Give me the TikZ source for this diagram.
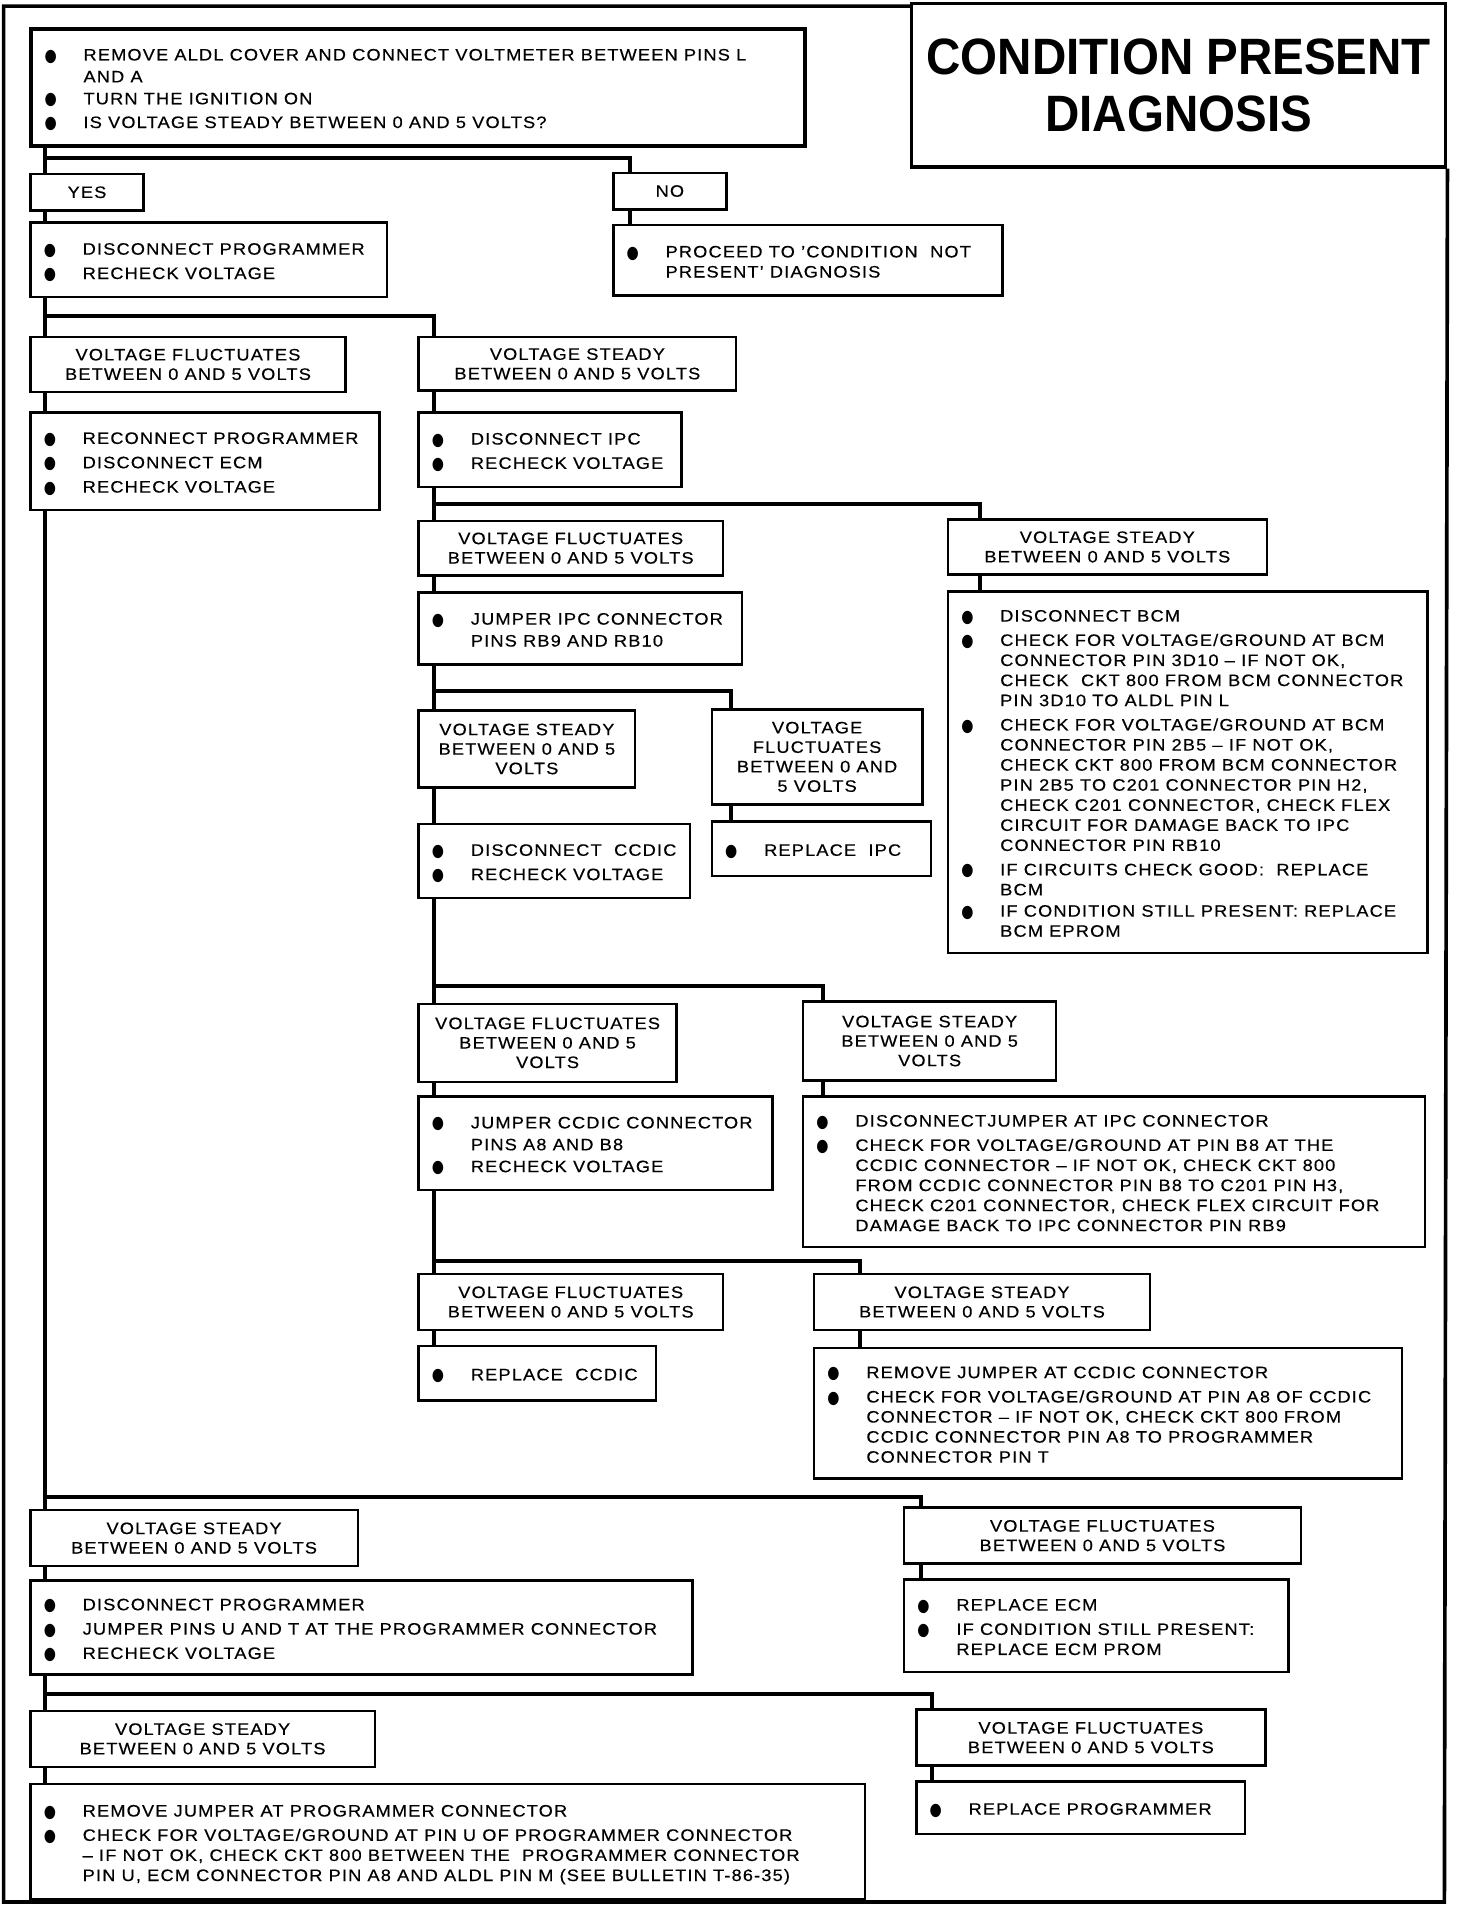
\documentclass[tikz,border=0pt]{standalone}
\usepackage{fontspec}
\usepackage{graphicx}
\setmainfont{Liberation Sans}[FakeStretch=1.1,LetterSpace=7,FakeBold=0.4]
\newfontfamily\titlefont{Liberation Sans}[FakeStretch=0.93]
\newfontfamily\symf{DejaVu Sans}
\newcommand\bul{\makebox[31pt][l]{\makebox[8pt]{\smash{\raisebox{-0.5pt}{\scalebox{1.0}[1.25]{\symf\fontsize{11.5}{11.5}\selectfont ●}}}}}}
\tikzset{
  bx/.style={draw, line width=2pt, inner sep=0pt, font={\fontsize{13.6}{16.5}\selectfont}},
  bxthick/.style={bx, line width=3.3pt},
  hd/.style={draw, line width=2pt, inner sep=0pt, align=center, font={\fontsize{13.6}{16}\selectfont}},
  conn/.style={line width=3.3pt},
  frame/.style={line width=3pt},
}
\newcommand\headbox[6]{\node[hd, anchor=north west, minimum width={#4-#2}, minimum height={#5-#3}] (#1) at (#2,#3) {#6};}
\newcommand\listbox[7][bx]{\node[#1, anchor=north west, minimum width={#5-#3}, minimum height={#6-#4}] (#2) at (#3,#4) {\makebox[\dimexpr#5pt-#3pt\relax][l]{\hspace{12pt}\raisebox{0pt}[\dimexpr\height+5pt\relax][\depth]{\begin{tabular}{@{}l@{}l@{}}#7\end{tabular}}}};}
\begin{document}
\begin{tikzpicture}[x=1pt,y=-1pt]
\useasboundingbox (0,0) rectangle (1197,1568);
% title and frame
\node[draw, line width=2.5pt, inner sep=0pt, anchor=north west, minimum width={1187-748}, minimum height={136-2}, align=center, font={\titlefont\bfseries\fontsize{42}{46.5}\selectfont}] (title) at (748,2) {CONDITION PRESENT\\DIAGNOSIS};
\coordinate (fr1) at (3,5);
\coordinate (fr2) at (3,1563);
\coordinate (fr3) at (1187,1563);
\draw[frame] ([yshift=-3pt]title.north west) -- (fr1) -- (fr2) -- (fr3) -- (title.south east);

% boxes
\listbox[bxthick]{top}{24}{22}{660}{118}{\bul & REMOVE ALDL COVER AND CONNECT VOLTMETER BETWEEN PINS L\\[1.5pt] & AND A\\[1.5pt] \bul & TURN THE IGNITION ON\\[3pt] \bul & IS VOLTAGE STEADY BETWEEN 0 AND 5 VOLTS?}
\headbox{yes}{24}{142}{117}{172}{YES}
\headbox{no}{503}{141}{596}{171}{NO}
\listbox{dp}{24}{182}{317}{243}{\bul & DISCONNECT PROGRAMMER\\[3.5pt] \bul & RECHECK VOLTAGE}
\listbox{proc}{503}{184}{823}{242}{\bul & PROCEED TO 'CONDITION \ NOT\\ & PRESENT' DIAGNOSIS}
\headbox{vf1}{24}{276}{283}{321}{VOLTAGE FLUCTUATES\\BETWEEN 0 AND 5 VOLTS}
\headbox{vs1}{343}{276}{604}{320}{VOLTAGE STEADY\\BETWEEN 0 AND 5 VOLTS}
\listbox{rec}{24}{338}{311}{418}{\bul & RECONNECT PROGRAMMER\\[3.5pt] \bul & DISCONNECT ECM\\[3.5pt] \bul & RECHECK VOLTAGE}
\listbox{dipc}{343}{338}{559}{399}{\bul & DISCONNECT IPC\\[3.5pt] \bul & RECHECK VOLTAGE}
\headbox{vf2}{343}{427}{593}{472}{VOLTAGE FLUCTUATES\\BETWEEN 0 AND 5 VOLTS}
\headbox{vs2}{778}{426}{1040}{471}{VOLTAGE STEADY\\BETWEEN 0 AND 5 VOLTS}
\listbox{bcm}{778}{485}{1172}{782}{\bul & DISCONNECT BCM\\[3.5pt]
 \bul & CHECK FOR VOLTAGE/GROUND AT BCM\\
 & CONNECTOR PIN 3D10 – IF NOT OK,\\
 & CHECK \ CKT 800 FROM BCM CONNECTOR\\
 & PIN 3D10 TO ALDL PIN L\\[3.5pt]
 \bul & CHECK FOR VOLTAGE/GROUND AT BCM\\
 & CONNECTOR PIN 2B5 – IF NOT OK,\\
 & CHECK CKT 800 FROM BCM CONNECTOR\\
 & PIN 2B5 TO C201 CONNECTOR PIN H2,\\
 & CHECK C201 CONNECTOR, CHECK FLEX\\
 & CIRCUIT FOR DAMAGE BACK TO IPC\\
 & CONNECTOR PIN RB10\\[3.5pt]
 \bul & IF CIRCUITS CHECK GOOD: \ REPLACE\\
 & BCM\\[1pt]
 \bul & IF CONDITION STILL PRESENT: REPLACE\\
 & BCM EPROM}
\listbox{jipc}{343}{486}{609}{545}{\bul & JUMPER IPC CONNECTOR\\[1.5pt] & PINS RB9 AND RB10}
\headbox{vs3}{343}{583}{521}{646}{VOLTAGE STEADY\\BETWEEN 0 AND 5\\VOLTS}
\headbox{vf3}{584}{582}{757}{660}{VOLTAGE\\FLUCTUATES\\BETWEEN 0 AND\\5 VOLTS}
\listbox{ripc}{584}{674}{764}{719}{\bul & REPLACE \ IPC}
\listbox{dcc}{343}{676}{566}{737}{\bul & DISCONNECT \ CCDIC\\[3.5pt] \bul & RECHECK VOLTAGE}
\headbox{vf4}{343}{824}{555}{888}{VOLTAGE FLUCTUATES\\BETWEEN 0 AND 5\\VOLTS}
\headbox{vs4}{659}{822}{867}{887}{VOLTAGE STEADY\\BETWEEN 0 AND 5\\VOLTS}
\listbox{jcc}{343}{900}{634}{977}{\bul & JUMPER CCDIC CONNECTOR\\[1.5pt] & PINS A8 AND B8\\[1.5pt] \bul & RECHECK VOLTAGE}
\listbox{djmp}{659}{900}{1170}{1024}{\bul & DISCONNECTJUMPER AT IPC CONNECTOR\\[3.5pt]
 \bul & CHECK FOR VOLTAGE/GROUND AT PIN B8 AT THE\\
 & CCDIC CONNECTOR – IF NOT OK, CHECK CKT 800\\
 & FROM CCDIC CONNECTOR PIN B8 TO C201 PIN H3,\\
 & CHECK C201 CONNECTOR, CHECK FLEX CIRCUIT FOR\\
 & DAMAGE BACK TO IPC CONNECTOR PIN RB9}
\headbox{vf5}{343}{1046}{593}{1092}{VOLTAGE FLUCTUATES\\BETWEEN 0 AND 5 VOLTS}
\headbox{vs5}{668}{1046}{944}{1092}{VOLTAGE STEADY\\BETWEEN 0 AND 5 VOLTS}
\listbox{rcc}{343}{1105}{538}{1150}{\bul & REPLACE \ CCDIC}
\listbox{rjc}{668}{1107}{1151}{1214}{\bul & REMOVE JUMPER AT CCDIC CONNECTOR\\[3.5pt]
 \bul & CHECK FOR VOLTAGE/GROUND AT PIN A8 OF CCDIC\\
 & CONNECTOR – IF NOT OK, CHECK CKT 800 FROM\\
 & CCDIC CONNECTOR PIN A8 TO PROGRAMMER\\
 & CONNECTOR PIN T}
\headbox{vs6}{24}{1240}{293}{1286}{VOLTAGE STEADY\\BETWEEN 0 AND 5 VOLTS}
\headbox{vf6}{742}{1238}{1068}{1284}{VOLTAGE FLUCTUATES\\BETWEEN 0 AND 5 VOLTS}
\listbox{dp2}{24}{1298}{568}{1375}{\bul & DISCONNECT PROGRAMMER\\[3.5pt] \bul & JUMPER PINS U AND T AT THE PROGRAMMER CONNECTOR\\[3.5pt] \bul & RECHECK VOLTAGE}
\listbox{recm}{742}{1297}{1058}{1373}{\bul & REPLACE ECM\\[3.5pt] \bul & IF CONDITION STILL PRESENT:\\ & REPLACE ECM PROM}
\headbox{vs7}{24}{1405}{307}{1451}{VOLTAGE STEADY\\BETWEEN 0 AND 5 VOLTS}
\headbox{vf7}{752}{1404}{1039}{1450}{VOLTAGE FLUCTUATES\\BETWEEN 0 AND 5 VOLTS}
\listbox{rjp}{24}{1465}{710}{1560}{\bul & REMOVE JUMPER AT PROGRAMMER CONNECTOR\\[3.5pt]
 \bul & CHECK FOR VOLTAGE/GROUND AT PIN U OF PROGRAMMER CONNECTOR\\
 & – IF NOT OK, CHECK CKT 800 BETWEEN THE \ PROGRAMMER CONNECTOR\\
 & PIN U, ECM CONNECTOR PIN A8 AND ALDL PIN M (SEE BULLETIN T-86-35)}
\listbox{rprog}{752}{1463}{1022}{1506}{\bul & REPLACE PROGRAMMER}

% junctions
\coordinate (j1) at (37,130);
\coordinate (j2) at (37,260);
\coordinate (j3) at (357,414);
\coordinate (j4) at (357,568);
\coordinate (j5) at (357,810);
\coordinate (j6) at (357,1036);
\coordinate (j7) at (37,1230);
\coordinate (j8) at (37,1392);

% connectors
\draw[conn] ([xshift=13pt]top.south west) -- ([xshift=13pt]yes.north west);
\draw[conn] (j1) -| ([xshift=15pt]no.north west);
\draw[conn] ([xshift=13pt]yes.south west) -- ([xshift=13pt]dp.north west);
\draw[conn] ([xshift=15pt]no.south west) -- ([xshift=15pt]proc.north west);
\draw[conn] ([xshift=13pt]dp.south west) -- ([xshift=13pt]vf1.north west);
\draw[conn] (j2) -| ([xshift=14pt]vs1.north west);
\draw[conn] ([xshift=13pt]vf1.south west) -- ([xshift=13pt]rec.north west);
\draw[conn] ([xshift=14pt]vs1.south west) -- ([xshift=14pt]dipc.north west);
\draw[conn] ([xshift=13pt]rec.south west) -- ([xshift=13pt]vs6.north west);
\draw[conn] (j7) -| ([xshift=15pt]vf6.north west);
\draw[conn] ([xshift=14pt]dipc.south west) -- ([xshift=14pt]vf2.north west);
\draw[conn] (j3) -| ([xshift=27pt]vs2.north west);
\draw[conn] ([xshift=27pt]vs2.south west) -- ([xshift=27pt]bcm.north west);
\draw[conn] ([xshift=14pt]vf2.south west) -- ([xshift=14pt]jipc.north west);
\draw[conn] ([xshift=14pt]jipc.south west) -- ([xshift=14pt]vs3.north west);
\draw[conn] (j4) -| ([xshift=17pt]vf3.north west);
\draw[conn] ([xshift=17pt]vf3.south west) -- ([xshift=17pt]ripc.north west);
\draw[conn] ([xshift=14pt]vs3.south west) -- ([xshift=14pt]dcc.north west);
\draw[conn] ([xshift=14pt]dcc.south west) -- ([xshift=14pt]vf4.north west);
\draw[conn] (j5) -| ([xshift=17pt]vs4.north west);
\draw[conn] ([xshift=17pt]vs4.south west) -- ([xshift=17pt]djmp.north west);
\draw[conn] ([xshift=14pt]vf4.south west) -- ([xshift=14pt]jcc.north west);
\draw[conn] ([xshift=14pt]jcc.south west) -- ([xshift=14pt]vf5.north west);
\draw[conn] (j6) -| ([xshift=39pt]vs5.north west);
\draw[conn] ([xshift=39pt]vs5.south west) -- ([xshift=39pt]rjc.north west);
\draw[conn] ([xshift=14pt]vf5.south west) -- ([xshift=14pt]rcc.north west);
\draw[conn] ([xshift=13pt]vs6.south west) -- ([xshift=13pt]dp2.north west);
\draw[conn] ([xshift=15pt]vf6.south west) -- ([xshift=15pt]recm.north west);
\draw[conn] ([xshift=13pt]dp2.south west) -- ([xshift=13pt]vs7.north west);
\draw[conn] (j8) -| ([xshift=14pt]vf7.north west);
\draw[conn] ([xshift=13pt]vs7.south west) -- ([xshift=13pt]rjp.north west);
\draw[conn] ([xshift=14pt]vf7.south west) -- ([xshift=14pt]rprog.north west);
\end{tikzpicture}
\end{document}
